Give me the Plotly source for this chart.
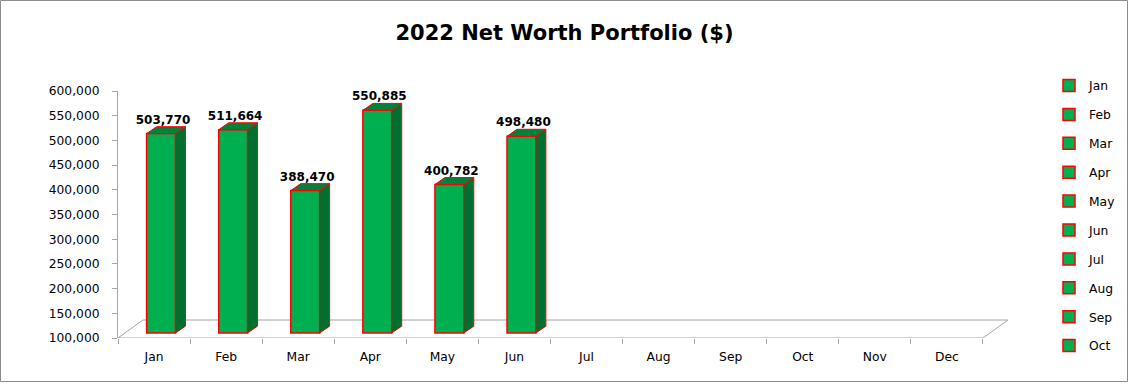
import plotly.graph_objects as go

# ---------------- data ----------------
months = ["Jan", "Feb", "Mar", "Apr", "May", "Jun",
          "Jul", "Aug", "Sep", "Oct", "Nov", "Dec"]
net_worth = [503770, 511664, 388470, 550885, 400782, 498480,
             None, None, None, None, None, None]
y_ticks = [100000, 150000, 200000, 250000, 300000, 350000,
           400000, 450000, 500000, 550000, 600000]
legend_months = months[:10]   # Excel legend only had room for Jan..Oct

# ---------------- pseudo-3D geometry (axis units) ----------------
BASE = 100000
BAR_W = 0.40
FRONT_DX, FRONT_DY = 0.097, 10000     # bar front plane offset from axis plane
DEPTH_DX, DEPTH_DY = 0.139, 14000     # bar depth
FLOOR_DX, FLOOR_DY = 0.347, 36400     # floor depth

FRONT = "#00B050"
SIDE = "#006F2F"
TOP = "#00823B"
EDGE = "#FF0000"
GRID = "#A6A6A6"
FONT = "DejaVu Sans"
FS = 12.3

fig = go.Figure()

# front faces (one trace per month -> one legend entry per month)
for i, (m, v) in enumerate(zip(months, net_worth)):
    fig.add_trace(go.Bar(
        x=[i + FRONT_DX],
        y=[None if v is None else v - BASE],
        base=BASE + FRONT_DY,
        width=BAR_W,
        name=m,
        legendgroup=m,
        showlegend=m in legend_months,
        marker=dict(color=FRONT, line=dict(color=EDGE, width=1.5)),
        hovertemplate=f"{m}: %{{customdata:,}}<extra></extra>",
        customdata=[v],
    ))

# side and top faces
sx, sy, tx, ty = [], [], [], []
for i, v in enumerate(net_worth):
    if v is None:
        continue
    xl = i + FRONT_DX - BAR_W / 2
    xr = i + FRONT_DX + BAR_W / 2
    yb = BASE + FRONT_DY
    yt = v + FRONT_DY
    sx += [xr, xr + DEPTH_DX, xr + DEPTH_DX, xr, xr, None]
    sy += [yb, yb + DEPTH_DY, yt + DEPTH_DY, yt, yb, None]
    tx += [xl, xr, xr + DEPTH_DX, xl + DEPTH_DX, xl, None]
    ty += [yt, yt, yt + DEPTH_DY, yt + DEPTH_DY, yt, None]

fig.add_trace(go.Scatter(x=sx, y=sy, mode="lines", fill="toself",
                         fillcolor=SIDE, line=dict(color=EDGE, width=1),
                         showlegend=False, hoverinfo="skip"))
fig.add_trace(go.Scatter(x=tx, y=ty, mode="lines", fill="toself",
                         fillcolor=TOP, line=dict(color=EDGE, width=1),
                         showlegend=False, hoverinfo="skip"))

# data labels
lx, ly, lt = [], [], []
for i, v in enumerate(net_worth):
    if v is None:
        continue
    lx.append(i + FRONT_DX + DEPTH_DX * 0.2)
    ly.append(v + FRONT_DY + DEPTH_DY)
    lt.append(f"{v:,}")
fig.add_trace(go.Scatter(x=lx, y=ly, text=lt, mode="text",
                         textposition="top center", cliponaxis=False,
                         textfont=dict(family=FONT, size=12, color="#000000",
                                       weight="bold"),
                         showlegend=False, hoverinfo="skip"))

# ---------------- layout ----------------
W, H = 1129, 384
L, R, T, B = 118, 110, 91, 46
pw, ph = W - L - R, H - T - B

x0r, x1r = -0.5, 12.0
n = len(months)
floor_path = (f"M {x0r},{BASE} L {n - 0.5},{BASE} "
              f"L {n - 0.5 + FLOOR_DX},{BASE + FLOOR_DY} "
              f"L {x0r + FLOOR_DX},{BASE + FLOOR_DY} Z")

fig.update_layout(
    width=W, height=H,
    margin=dict(l=L, r=R, t=T, b=B, pad=0, autoexpand=False),
    paper_bgcolor="white", plot_bgcolor="white",
    barmode="overlay",
    font=dict(family=FONT, size=FS, color="#000000"),
    title=dict(text="<b>2022 Net Worth Portfolio ($)</b>",
               x=0.5, xref="container", xanchor="center",
               y=1 - 33 / H, yref="container", yanchor="middle",
               font=dict(family=FONT, size=21, color="#000000")),
    xaxis=dict(range=[x0r, x1r], showgrid=False, zeroline=False,
               showline=False,
               tickmode="array", tickvals=list(range(n)), ticktext=months,
               ticks="", ticklabelstandoff=10,
               minor=dict(tickmode="array",
                          tickvals=[k - 0.5 for k in range(n + 1)],
                          ticks="outside", ticklen=5, tickcolor=GRID,
                          tickwidth=1, showgrid=False),
               tickfont=dict(family=FONT, size=FS, color="#000000")),
    yaxis=dict(range=[BASE, 600000], showgrid=False, zeroline=False,
               showline=True, linecolor=GRID, linewidth=1,
               tickmode="array", tickvals=y_ticks, tickformat=",",
               ticks="outside", ticklen=5, tickcolor=GRID,
               ticklabelstandoff=10,
               tickfont=dict(family=FONT, size=FS, color="#000000")),
    legend=dict(x=(1049 - L) / pw, xanchor="left",
                y=(H - B - 71) / ph, yanchor="top",
                tracegroupgap=9.9, bgcolor="rgba(0,0,0,0)",
                maxheight=340,
                font=dict(family=FONT, size=FS, color="#000000")),
    shapes=[
        dict(type="path", path=floor_path, xref="x", yref="y",
             line=dict(color=GRID, width=1), layer="below"),
        dict(type="rect", xref="paper", yref="paper",
             x0=(0.5 - L) / pw, x1=(W - 1.5 - L) / pw,
             y0=(H - B - (H - 2.5)) / ph, y1=(H - B - 0.5) / ph,
             line=dict(color="#8C8C8C", width=1), fillcolor="rgba(0,0,0,0)",
             layer="below"),
    ],
)

fig.write_html("out.html",
               config={"displayModeBar": False},
               post_script="document.body.style.margin='0';")
